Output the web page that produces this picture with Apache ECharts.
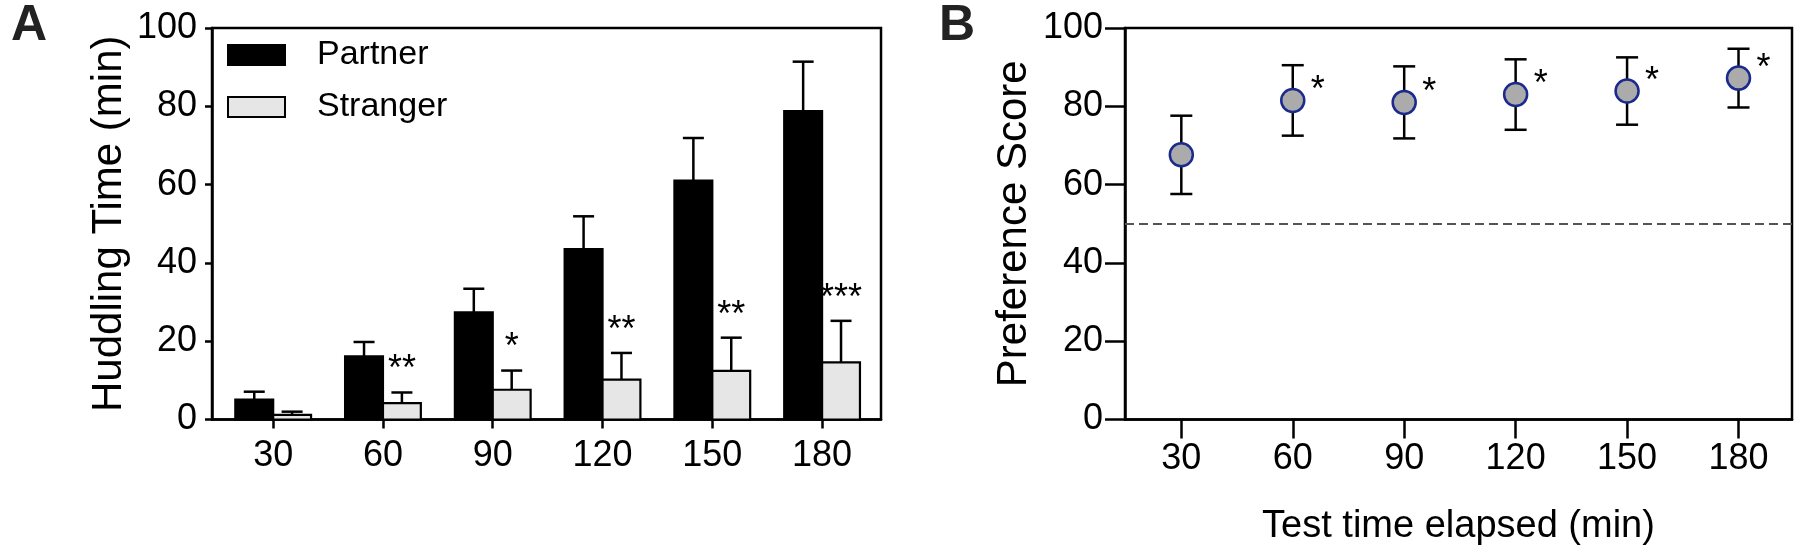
<!DOCTYPE html>
<html>
<head>
<meta charset="utf-8">
<script src="https://cdn.jsdelivr.net/npm/echarts@6/dist/echarts.min.js"></script>
<style>
html,body{margin:0;padding:0;background:#fff;}
#chart{width:1800px;height:555px;}
</style>
</head>
<body>
<div id="chart"></div>
<script>
// ---- data ----
const timePoints = [30, 60, 90, 120, 150, 180];
const partnerMean = [5.1, 16.1, 27.4, 43.5, 61.0, 78.8];
const partnerSem = [2.0, 3.7, 6.0, 8.4, 10.9, 12.6];
const strangerMean = [1.2, 4.2, 7.6, 10.2, 12.4, 14.6];
const strangerSem = [0.8, 2.7, 4.9, 6.8, 8.5, 10.6];
const huddleStars = ['', '**', '*', '**', '**', '***'];
const prefMean = [67.6, 81.5, 81.0, 83.0, 83.9, 87.2];
const prefSem = [10.0, 9.0, 9.2, 9.0, 8.6, 7.5];
const prefStars = ['', '*', '*', '*', '*', '*'];
const chanceLevel = 50;
const seriesNames = ['Partner', 'Stranger'];
const panelLabels = ['A', 'B'];
const huddleTitle = 'Huddling Time (min)';
const prefTitle = 'Preference Score';
const xTitle = 'Test time elapsed (min)';

const FONT = "'Liberation Sans', Arial, Helvetica, sans-serif";
const TICKFONT = 36;
const chart = echarts.init(document.getElementById('chart'), null, {renderer: 'canvas'});

function barRender(side, fill) {
  return function (params, api) {
    const x = api.value(0), v = api.value(1), err = api.value(2);
    const base = api.coord([x, 0]);
    const top = api.coord([x, v]);
    const et = api.coord([x, v + err]);
    const bw = api.size([30, 0])[0] * 0.345;
    const cx = base[0] + side * bw / 2;
    const cap = 21;
    return {
      type: 'group',
      children: [
        {type: 'line', shape: {x1: cx, y1: top[1], x2: cx, y2: et[1]}, style: {stroke: '#000', lineWidth: 2.5}},
        {type: 'line', shape: {x1: cx - cap / 2, y1: et[1], x2: cx + cap / 2, y2: et[1]}, style: {stroke: '#000', lineWidth: 2.5}},
        {type: 'rect', shape: {x: cx - bw / 2, y: top[1], width: bw, height: base[1] - top[1]},
          style: {fill: fill, stroke: '#000', lineWidth: 2.2}}
      ]
    };
  };
}

const option = {
  backgroundColor: '#fff',
  animation: false,
  textStyle: {fontFamily: FONT, color: '#000'},
  title: [
    {text: panelLabels[0], left: 6, top: -4, textStyle: {fontSize: 50, fontWeight: 'bold', fontFamily: FONT, color: '#222'}},
    {text: panelLabels[1], left: 934, top: -4, textStyle: {fontSize: 50, fontWeight: 'bold', fontFamily: FONT, color: '#222'}}
  ],
  legend: {
    orient: 'vertical', left: 222, top: 30, itemWidth: 57, itemHeight: 20, itemGap: 12,
    selectedMode: false,
    textStyle: {fontSize: 34, fontFamily: FONT, color: '#000', lineHeight: 40, padding: [0, 0, 0, 27]},
    data: [
      {name: seriesNames[0], icon: 'rect', itemStyle: {color: '#000', borderColor: '#000', borderWidth: 2}},
      {name: seriesNames[1], icon: 'rect', itemStyle: {color: '#e6e6e6', borderColor: '#000', borderWidth: 2}}
    ]
  },
  grid: [
    {left: 212, right: 919, top: 28, bottom: 135.5, show: true, borderColor: '#000', borderWidth: 2.5},
    {left: 1125, right: 8, top: 28, bottom: 135.5, show: true, borderColor: '#000', borderWidth: 2.5}
  ],
  xAxis: [
    {
      gridIndex: 0, type: 'value', min: 13.28, max: 196.1,
      axisLine: {lineStyle: {color: '#000', width: 2.5}},
      axisTick: {show: true, customValues: timePoints, length: 9, lineStyle: {color: '#000', width: 2.5}},
      axisLabel: {customValues: timePoints, fontSize: TICKFONT, color: '#000', margin: 19, fontFamily: FONT},
      splitLine: {show: false}
    },
    {
      gridIndex: 1, type: 'value', min: 14.84, max: 194.4,
      axisLine: {lineStyle: {color: '#000', width: 2.5}},
      axisTick: {show: true, customValues: timePoints, length: 19, lineStyle: {color: '#000', width: 2.5}},
      axisLabel: {customValues: timePoints, fontSize: TICKFONT, color: '#000', margin: 22, fontFamily: FONT},
      splitLine: {show: false},
      name: xTitle, nameLocation: 'middle', nameGap: 88,
      nameTextStyle: {fontSize: 38, color: '#000', fontFamily: FONT}
    }
  ],
  yAxis: [
    {
      gridIndex: 0, type: 'value', min: 0, max: 100, interval: 20,
      axisLine: {show: true, lineStyle: {color: '#000', width: 2.5}},
      axisTick: {show: true, length: 7, lineStyle: {color: '#000', width: 2.5}},
      axisLabel: {fontSize: TICKFONT, color: '#000', margin: 15, fontFamily: FONT},
      splitLine: {show: false},
      name: huddleTitle, nameLocation: 'middle', nameGap: 82,
      nameTextStyle: {fontSize: 42, color: '#000', fontFamily: FONT}
    },
    {
      gridIndex: 1, type: 'value', min: 0, max: 100, interval: 20,
      axisLine: {show: true, lineStyle: {color: '#000', width: 2.5}},
      axisTick: {show: true, length: 20, lineStyle: {color: '#000', width: 2.5}},
      axisLabel: {fontSize: TICKFONT, color: '#000', margin: 22, fontFamily: FONT},
      splitLine: {show: false},
      name: prefTitle, nameLocation: 'middle', nameGap: 90,
      nameTextStyle: {fontSize: 42, color: '#000', fontFamily: FONT}
    }
  ],
  series: [
    {
      name: seriesNames[0], type: 'custom', xAxisIndex: 0, yAxisIndex: 0, clip: false,
      itemStyle: {color: '#000'},
      renderItem: barRender(-1, '#000'),
      data: timePoints.map((t, i) => [t, partnerMean[i], partnerSem[i]])
    },
    {
      name: seriesNames[1], type: 'custom', xAxisIndex: 0, yAxisIndex: 0, clip: false,
      itemStyle: {color: '#e6e6e6'},
      renderItem: barRender(1, '#e6e6e6'),
      data: timePoints.map((t, i) => [t, strangerMean[i], strangerSem[i]])
    },
    {
      name: 'huddleStars', type: 'custom', xAxisIndex: 0, yAxisIndex: 0, clip: false, silent: true,
      renderItem: function (params, api) {
        const i = params.dataIndex;
        const x = api.value(0), top = api.value(1);
        const p = api.coord([x, top]);
        const bw = api.size([30, 0])[0] * 0.345;
        return {type: 'text', style: {text: huddleStars[i], x: p[0] + bw / 2, y: p[1] - 22,
          align: 'center', verticalAlign: 'middle', font: '36px ' + FONT, fill: '#000'}};
      },
      data: timePoints.map((t, i) => [t, strangerMean[i] + strangerSem[i]])
    },
    {
      name: 'prefErr', type: 'custom', xAxisIndex: 1, yAxisIndex: 1, clip: false, silent: true,
      renderItem: function (params, api) {
        const x = api.value(0), m = api.value(1), s = api.value(2);
        const hi = api.coord([x, m + s]);
        const lo = api.coord([x, m - s]);
        const cap = 22;
        return {
          type: 'group', children: [
            {type: 'line', shape: {x1: hi[0], y1: hi[1], x2: lo[0], y2: lo[1]}, style: {stroke: '#000', lineWidth: 2.5}},
            {type: 'line', shape: {x1: hi[0] - cap / 2, y1: hi[1], x2: hi[0] + cap / 2, y2: hi[1]}, style: {stroke: '#000', lineWidth: 2.5}},
            {type: 'line', shape: {x1: lo[0] - cap / 2, y1: lo[1], x2: lo[0] + cap / 2, y2: lo[1]}, style: {stroke: '#000', lineWidth: 2.5}}
          ]
        };
      },
      data: timePoints.map((t, i) => [t, prefMean[i], prefSem[i]])
    },
    {
      name: 'pref', type: 'scatter', xAxisIndex: 1, yAxisIndex: 1, symbol: 'circle', symbolSize: 23,
      z: 5,
      itemStyle: {color: '#ababab', borderColor: '#1b2a8c', borderWidth: 2.5, opacity: 1},
      data: timePoints.map((t, i) => [t, prefMean[i]]),
      markLine: {
        silent: true, symbol: 'none', label: {show: false},
        lineStyle: {color: '#555', type: [9, 5], width: 2},
        data: [{yAxis: chanceLevel}]
      }
    },
    {
      name: 'prefStars', type: 'custom', xAxisIndex: 1, yAxisIndex: 1, clip: false, silent: true,
      renderItem: function (params, api) {
        const i = params.dataIndex;
        const p = api.coord([api.value(0), api.value(1)]);
        return {type: 'text', style: {text: prefStars[i], x: p[0] + 25, y: p[1] - 9,
          align: 'center', verticalAlign: 'middle', font: '36px ' + FONT, fill: '#000'}};
      },
      data: timePoints.map((t, i) => [t, prefMean[i]])
    }
  ]
};
chart.setOption(option);
</script>
</body>
</html>
